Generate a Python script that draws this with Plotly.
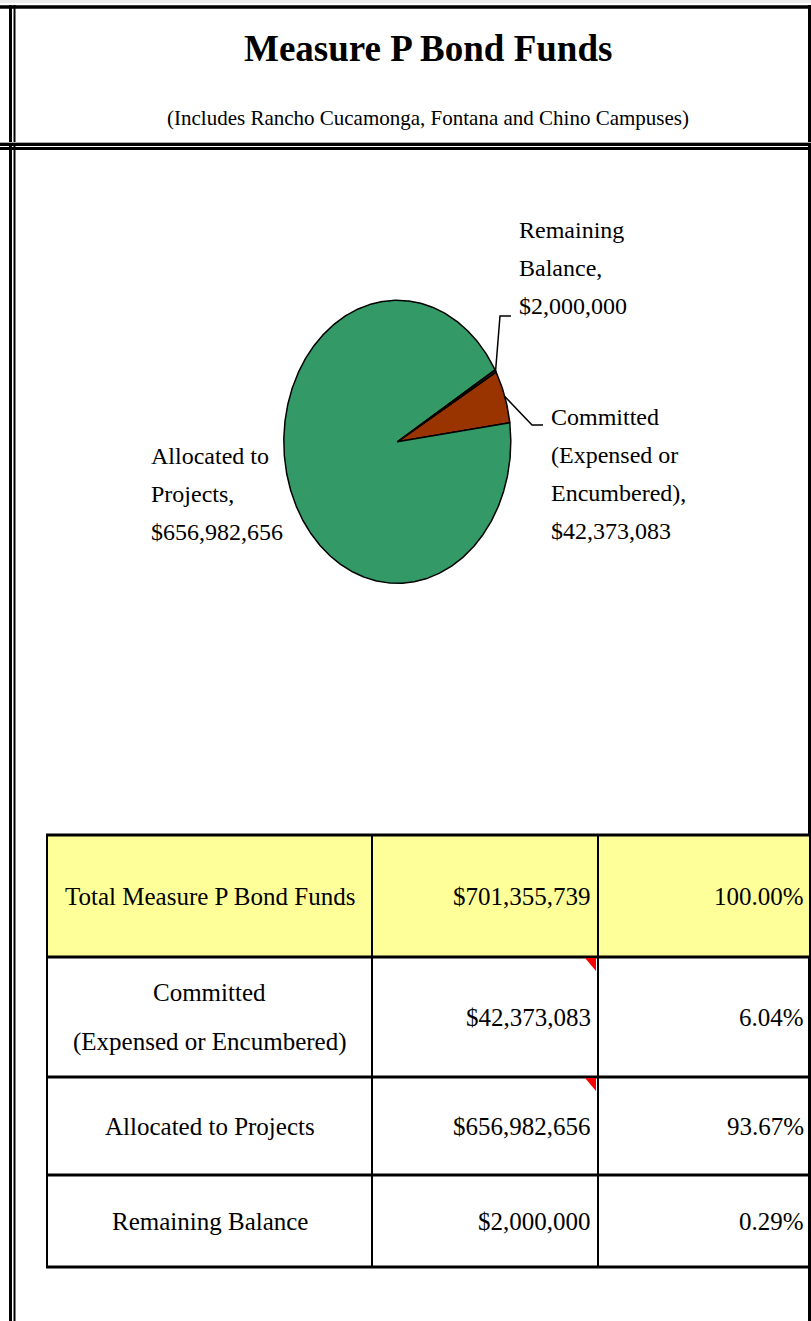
import numpy as np
import plotly.graph_objects as go

W, H = 811, 1321

# data
categories = ["Committed (Expensed or Encumbered)", "Allocated to Projects", "Remaining Balance"]
amounts = [42373083, 656982656, 2000000]
percents = [6.04, 93.67, 0.29]
total_label = "Total Measure P Bond Funds"
total_amount = 701355739
total_percent = 100.00

# how the names wrap in the picture
pie_name_lines = [["Committed", "(Expensed or", "Encumbered),"], ["Allocated to", "Projects,"], ["Remaining", "Balance,"]]
table_name_lines = [["Committed", "(Expensed or Encumbered)"], ["Allocated to Projects"], ["Remaining Balance"]]

pie_colors = ["#993300", "#339966", "#222222"]
FONT = "Liberation Serif"


def px(x):
    return x / W


def py(y):
    return 1 - y / H


# pie geometry (pixels); the pie is an ellipse in the original
cx, cy, rx, ry = 397.3, 441.8, 113.5, 141.5
xr = [-1.4, 1.4]
yr = [-1.1, 1.3]
start_angle = 60.5

fig = go.Figure()

total = sum(amounts)
a0 = start_angle
mids = []
for name, amt, col in zip(categories, amounts, pie_colors):
    a1 = a0 + 360 * amt / total
    t = np.radians(np.linspace(a0, a1, max(4, int(a1 - a0) * 2)))
    xs = np.concatenate([[0], np.sin(t), [0]])
    ys = np.concatenate([[0], np.cos(t), [0]])
    fig.add_trace(go.Scatter(x=xs, y=ys, mode="lines", fill="toself", fillcolor=col,
                             line=dict(color="black", width=1.5), name=name,
                             hoverinfo="name", showlegend=False))
    mids.append(np.radians((a0 + a1) / 2))
    a0 = a1

# leader lines: from the rim at the slice middle to the label
def ax_x(xp):
    return (xp - cx) / rx


def ax_y(yp):
    return (cy - yp) / ry


leaders = {0: [(532, 425), (543, 425)], 2: [(500, 316), (511, 316)]}
for i, pts in leaders.items():
    xs = [np.sin(mids[i])] + [ax_x(p[0]) for p in pts]
    ys = [np.cos(mids[i])] + [ax_y(p[1]) for p in pts]
    fig.add_trace(go.Scatter(x=xs, y=ys, mode="lines", line=dict(color="black", width=1.5),
                             hoverinfo="skip", showlegend=False))

annotations = []


def add_lines(lines, x, y0, step, size, xanchor="left"):
    for k, s in enumerate(lines):
        annotations.append(dict(text=s, x=px(x), y=py(y0 + k * step), xref="paper", yref="paper",
                                xanchor=xanchor, yanchor="middle", showarrow=False,
                                font=dict(family=FONT, size=size, color="black")))


# pie labels
pie_label_pos = [(549, 417), (149, 456), (517, 230)]
for lines, amt, (lx, ly) in zip(pie_name_lines, amounts, pie_label_pos):
    add_lines(lines + [f"${amt:,}"], lx, ly, 38, 24)

# title block
annotations.append(dict(text="<b>Measure P Bond Funds</b>", x=px(428), y=py(48), xref="paper", yref="paper",
                        xanchor="center", yanchor="middle", showarrow=False,
                        font=dict(family=FONT, size=37, color="black")))
annotations.append(dict(text="(Includes Rancho Cucamonga, Fontana and Chino Campuses)", x=px(428), y=py(118),
                        xref="paper", yref="paper", xanchor="center", yanchor="middle", showarrow=False,
                        font=dict(family=FONT, size=21, color="black")))

shapes = []


def hline(y, x0, x1, w, color="black"):
    shapes.append(dict(type="line", xref="paper", yref="paper", x0=px(x0), x1=px(x1), y0=py(y), y1=py(y),
                       line=dict(color=color, width=w)))


def vline(x, y0, y1, w, color="black"):
    shapes.append(dict(type="line", xref="paper", yref="paper", x0=px(x), x1=px(x), y0=py(y0), y1=py(y1),
                       line=dict(color=color, width=w)))


# page frame
shapes.append(dict(type="rect", xref="paper", yref="paper", x0=0, x1=1, y0=py(3), y1=1,
                   fillcolor="#ececec", line=dict(width=0)))
hline(7, 0, W, 3.5)
vline(10.5, 5, H, 3)
vline(14.5, 5, H, 2)
vline(809.5, 5, H, 3)
hline(142.5, 0, W, 1, "#aaaaaa")
hline(144.5, 0, W, 3)
hline(148.5, 0, W, 3)

# table
col_x = [47, 372, 598, 809]
row_y = [835, 957, 1077, 1175, 1267]
shapes.append(dict(type="rect", xref="paper", yref="paper", x0=px(col_x[0]), x1=px(col_x[-1]),
                   y0=py(row_y[1]), y1=py(row_y[0]), fillcolor="#ffff99", line=dict(width=0)))
for y in row_y:
    hline(y, col_x[0] - 1, col_x[-1], 3)
for x in col_x[:-1]:
    vline(x, row_y[0], row_y[-1], 2)
# comment markers
for y in row_y[1:3]:
    shapes.append(dict(type="path", xref="paper", yref="paper",
                       path=f"M {px(585)},{py(y + 1)} L {px(596)},{py(y + 1)} L {px(596)},{py(y + 14)} Z",
                       fillcolor="red", line=dict(width=0)))

names = [[total_label]] + table_name_lines
values = [total_amount] + amounts
pcts = [total_percent] + percents
for i, (nl, v, p) in enumerate(zip(names, values, pcts)):
    yc = (row_y[i] + row_y[i + 1]) / 2
    step = 50
    add_lines(nl, (col_x[0] + col_x[1]) / 2, yc - step * (len(nl) - 1) / 2, step, 25, "center")
    add_lines([f"${v:,}"], col_x[2] - 5, yc, 0, 25, "right")
    add_lines([f"{p:.2f}%"], 806, yc, 0, 25, "right")

fig.update_layout(
    width=W, height=H, margin=dict(l=0, r=0, t=0, b=0),
    paper_bgcolor="white", plot_bgcolor="white",
    xaxis=dict(domain=[px(cx + xr[0] * rx), px(cx + xr[1] * rx)], range=xr, visible=False, fixedrange=True),
    yaxis=dict(domain=[py(cy - yr[0] * ry), py(cy - yr[1] * ry)], range=yr, visible=False, fixedrange=True),
    shapes=shapes, annotations=annotations, showlegend=False,
)

# the page's default body margin would push the figure 8px off
fig.write_html("out.html", config={"displayModeBar": False},
               post_script="document.body.style.margin='0';")
